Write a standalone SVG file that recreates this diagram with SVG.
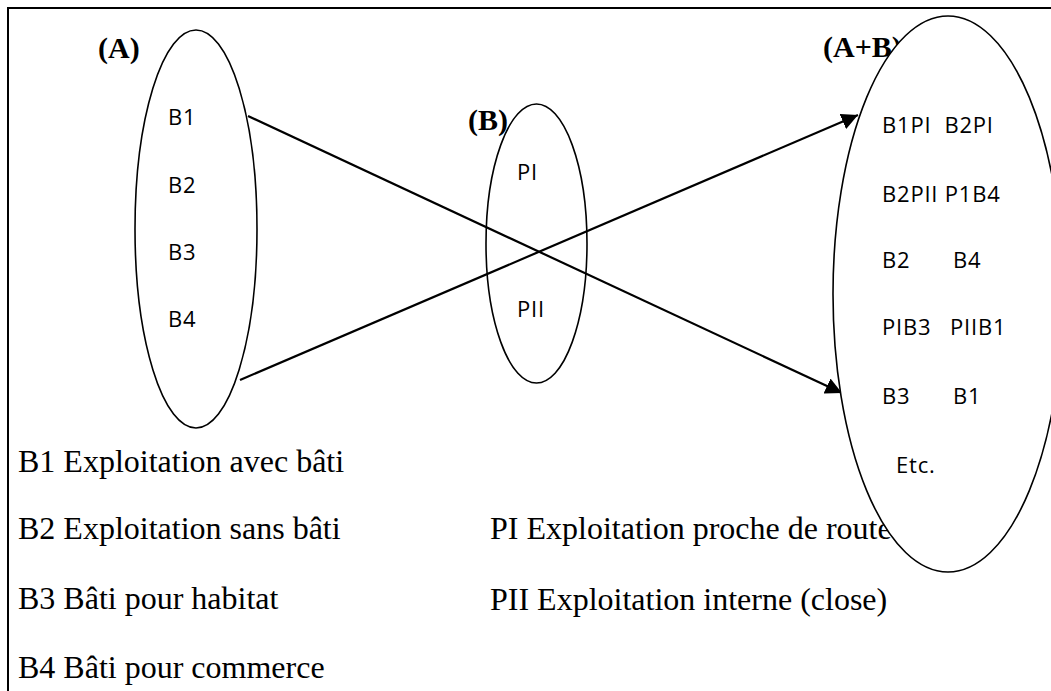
<svg xmlns="http://www.w3.org/2000/svg" width="1051" height="691" viewBox="0 0 1051 691">
<style>
.frame{fill:none;stroke:#000;stroke-width:2}
.ell{fill:none;stroke:#000;stroke-width:1.6}
.ellw{fill:#fff;stroke:#000;stroke-width:1.6}
.lbl{font-family:"Liberation Serif","Times New Roman",serif;font-weight:bold;font-size:30px;fill:#000}
.item{font-family:"Open Sans","Liberation Sans",sans-serif;font-size:22px;letter-spacing:0.8px;fill:#000}
.leg{font-family:"Liberation Serif","Times New Roman",serif;font-size:32px;fill:#000}
.conn{stroke:#000;stroke-width:2.2;fill:none}
</style>
<defs>
<marker id="arr" viewBox="0 0 10 10" refX="10" refY="5" markerWidth="7.5" markerHeight="7.5" markerUnits="strokeWidth" orient="auto">
<path d="M0,0 L10,5 L0,10 z" fill="#000"/>
</marker>
</defs>
<rect width="1051" height="691" fill="#fff"/>
<path class="frame" d="M8,691 L8,8 L1051,8"/>
<g id="legend">
<text class="leg" x="18" y="472">B1 Exploitation avec bâti</text>
<text class="leg" x="18" y="539">B2 Exploitation sans bâti</text>
<text class="leg" x="18" y="609">B3 Bâti pour habitat</text>
<text class="leg" x="18" y="678">B4 Bâti pour commerce</text>
<text class="leg" x="490" y="539">PI Exploitation proche de route</text>
<text class="leg" x="490" y="610">PII Exploitation interne (close)</text>
</g>
<g id="nodeA">
<ellipse class="ell" cx="196" cy="229" rx="61" ry="199"/>
<text class="lbl" x="98" y="58">(A)</text>
<text class="item" x="168" y="125">B1</text>
<text class="item" x="168" y="193">B2</text>
<text class="item" x="168" y="260">B3</text>
<text class="item" x="168" y="327">B4</text>
</g>
<g id="nodeB">
<ellipse class="ell" cx="536.5" cy="243.5" rx="50.5" ry="139.5"/>
<text class="lbl" x="468" y="130">(B)</text>
<text class="item" x="517" y="180">PI</text>
<text class="item" x="517" y="317">PII</text>
</g>
<g id="connectors">
<line class="conn" x1="248" y1="116" x2="842" y2="393" marker-end="url(#arr)"/>
<line class="conn" x1="240" y1="380" x2="858" y2="115" marker-end="url(#arr)"/>
</g>
<g id="nodeAB">
<text class="lbl" x="823" y="57">(A+B)</text>
<ellipse class="ellw" cx="948" cy="294" rx="115" ry="278"/>
<text class="item" x="882" y="133" xml:space="preserve">B1PI  B2PI</text>
<text class="item" x="882" y="202">B2PII P1B4</text>
<text class="item" x="882" y="268">B2</text>
<text class="item" x="953" y="268">B4</text>
<text class="item" x="882" y="335">PIB3</text>
<text class="item" x="950" y="335">PIIB1</text>
<text class="item" x="882" y="404">B3</text>
<text class="item" x="953" y="404">B1</text>
<text class="item" x="896" y="473">Etc.</text>
</g>
</svg>
